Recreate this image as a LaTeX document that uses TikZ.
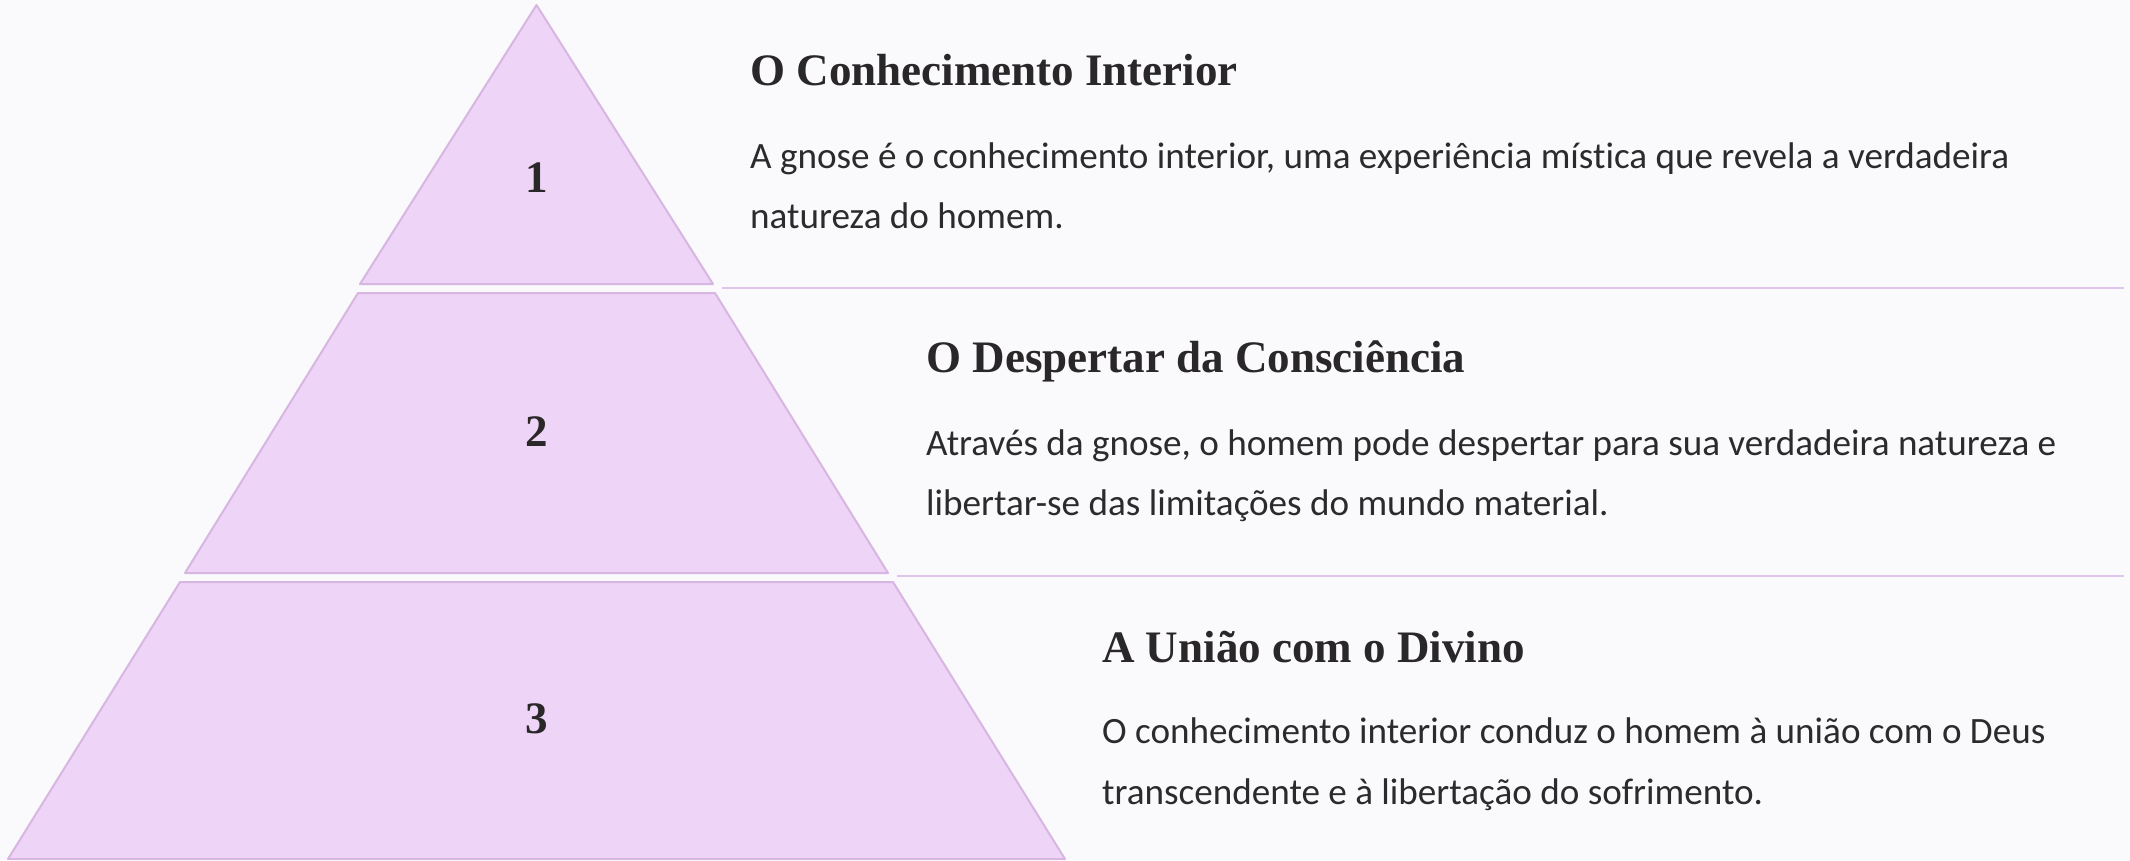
\documentclass[tikz,border=0pt]{standalone}
\usepackage{fontspec}
\newfontfamily\bodyfont[Ligatures=NoCommon]{Carlito}
\newfontfamily\headfont{Liberation Serif}
\newlength\fitlen
\AtBeginDocument{%
  \settowidth\fitlen{\bodyfont\fontsize{10pt}{12pt}\selectfont A gnose é o conhecimento interior, uma experiência mística que revela a verdadeira}%
  \pgfmathsetmacro\bodysz{10*1259/\fitlen}%
  \settowidth\fitlen{\headfont\bfseries\fontsize{10pt}{12pt}\selectfont O Despertar da Consciência}%
  \pgfmathsetmacro\headsz{10*539/\fitlen}%
}
\definecolor{bgcol}{HTML}{FAF9FC}
\definecolor{tierfill}{HTML}{EED4F7}
\definecolor{tierline}{HTML}{D7B6E1}
\definecolor{sepcol}{HTML}{E1C6EC}
\definecolor{headcol}{HTML}{2A2729}
\definecolor{bodycol}{HTML}{2B2B2B}
\tikzset{
  tier/.style={fill=tierfill, draw=tierline, line width=2pt, line join=round},
  sepline/.style={draw=sepcol, line width=2pt},
  numlabel/.style={inner sep=0pt, text=headcol, font=\headfont\bfseries\fontsize{\headsz pt}{\headsz pt}\selectfont},
  heading/.style={anchor=base west, inner sep=0pt, text=headcol, font=\headfont\bfseries\fontsize{\headsz pt}{\headsz pt}\selectfont},
  bodytext/.style={anchor=base west, inner sep=0pt, text=bodycol, font=\bodyfont\fontsize{\bodysz pt}{60pt}\selectfont},
}
\begin{document}
\begin{tikzpicture}[x=1pt, y=-1pt]
% background
\fill[bgcol] (0,0) rectangle (2130,860);
\useasboundingbox (0,0) rectangle (2130,860);
% tiers
\draw[tier] (536.5,5) -- (713,284) -- (360,284) -- cycle;
\draw[tier] (358,293) -- (715,293) -- (888,573) -- (185,573) -- cycle;
\draw[tier] (180,582) -- (893,582) -- (1065,859) -- (8,859) -- cycle;
% separators
\coordinate (s1a) at (722,288);
\coordinate (s1b) at (2124,288);
\coordinate (s2a) at (897,576);
\coordinate (s2b) at (2124,576);
\draw[sepline] (s1a) -- (s1b);
\draw[sepline] (s2a) -- (s2b);
% numbers
\node[numlabel] (n1) at (537,178) {1};
\node[numlabel] (n2) at (537,432) {2};
\node[numlabel] (n3) at (537,719) {3};
% tier 1 text
\node[heading] (h1) at (750,85) {O Conhecimento Interior};
\node[bodytext] (b1a) at (750,168) {A gnose é o conhecimento interior, uma experiência mística que revela a verdadeira};
\node[bodytext] (b1b) at (750,228) {natureza do homem.};
% tier 2 text
\node[heading] (h2) at (926,372) {O Despertar da Consciência};
\node[bodytext] (b2a) at (926,455) {Através da gnose, o homem pode despertar para sua verdadeira natureza e};
\node[bodytext] (b2b) at (926,515) {libertar-se das limitações do mundo material.};
% tier 3 text
\node[heading] (h3) at (1102,662) {A União com o Divino};
\node[bodytext] (b3a) at (1102,743) {O conhecimento interior conduz o homem à união com o Deus};
\node[bodytext] (b3b) at (1102,804) {transcendente e à libertação do sofrimento.};
\end{tikzpicture}
\end{document}
